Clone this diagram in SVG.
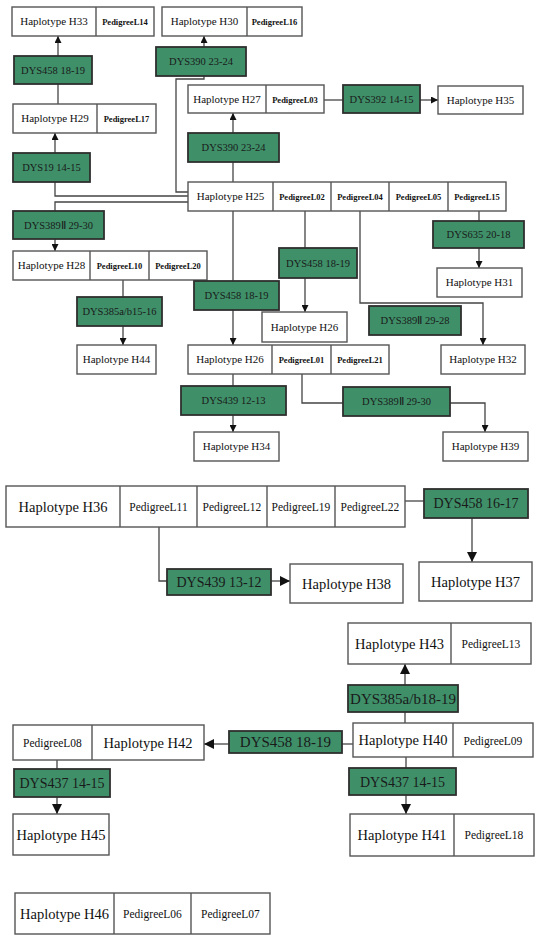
<svg xmlns="http://www.w3.org/2000/svg" width="548" height="938" viewBox="0 0 548 938">
<style>
.box{fill:#fff;stroke:#555;stroke-width:1.4}
.div{stroke:#555;stroke-width:1.4}
.g{fill:#3f9069;stroke:#2f2f2f;stroke-width:1.8}
.c{fill:none;stroke:#444;stroke-width:1.3}
text{font-family:'Liberation Serif','Times New Roman',serif;text-anchor:middle;fill:#111}
.h{font-size:11px}
.p{font-size:8.5px;font-weight:bold}
.d{font-size:10.5px;fill:#1a1a1a}
.H{font-size:14.5px}
.P{font-size:11.5px}
.D{font-size:14px;fill:#1a1a1a}
</style>
<defs>
<marker id="a" viewBox="0 0 10 10" refX="10" refY="5" markerWidth="7" markerHeight="7" markerUnits="userSpaceOnUse" orient="auto"><path d="M0,0L10,5L0,10z" fill="#111"/></marker>
<marker id="A" viewBox="0 0 10 10" refX="10" refY="5" markerWidth="10" markerHeight="10" markerUnits="userSpaceOnUse" orient="auto"><path d="M0,0L10,5L0,10z" fill="#111"/></marker>
</defs>
<rect width="548" height="938" fill="#fff"/>
<g id="connectors">
<line class="c" x1="58" y1="56" x2="58" y2="36" marker-end="url(#a)"/>
<line class="c" x1="58" y1="104" x2="58" y2="84"/>
<line class="c" x1="55" y1="153" x2="55" y2="133" marker-end="url(#a)"/>
<polyline class="c" points="188,196 55,196 55,182"/>
<line class="c" x1="204" y1="47" x2="204" y2="36" marker-end="url(#a)"/>
<polyline class="c" points="188,192 176,192 176,79 204,79 204,76"/>
<line class="c" x1="233" y1="182" x2="233" y2="162"/>
<line class="c" x1="233" y1="133" x2="233" y2="113" marker-end="url(#a)"/>
<line class="c" x1="324" y1="100" x2="343" y2="100"/>
<line class="c" x1="420" y1="100" x2="438" y2="100" marker-end="url(#a)"/>
<polyline class="c" points="188,202 55,202 55,211"/>
<line class="c" x1="55" y1="239" x2="55" y2="251" marker-end="url(#a)"/>
<line class="c" x1="123" y1="280" x2="123" y2="297"/>
<line class="c" x1="123" y1="326" x2="123" y2="345" marker-end="url(#a)"/>
<line class="c" x1="233" y1="211" x2="233" y2="281"/>
<line class="c" x1="233" y1="310" x2="233" y2="345" marker-end="url(#a)"/>
<line class="c" x1="305" y1="211" x2="305" y2="248"/>
<line class="c" x1="305" y1="278" x2="305" y2="312" marker-end="url(#a)"/>
<polyline class="c" points="360,211 360,303 483,303 483,345" marker-end="url(#a)"/>
<line class="c" x1="479" y1="211" x2="479" y2="221"/>
<line class="c" x1="479" y1="248" x2="479" y2="268" marker-end="url(#a)"/>
<line class="c" x1="233" y1="374" x2="233" y2="386"/>
<line class="c" x1="233" y1="415" x2="233" y2="432" marker-end="url(#a)"/>
<polyline class="c" points="302,374 302,403 343,403"/>
<polyline class="c" points="450,403 485,403 485,432" marker-end="url(#a)"/>
<line class="c" x1="405" y1="501" x2="424" y2="501"/>
<line class="c" x1="472" y1="518" x2="472" y2="562" marker-end="url(#A)"/>
<polyline class="c" points="159,527 159,581 167,581"/>
<line class="c" x1="271" y1="581" x2="290" y2="581" marker-end="url(#A)"/>
<line class="c" x1="405" y1="685" x2="405" y2="664" marker-end="url(#A)"/>
<line class="c" x1="405" y1="723" x2="405" y2="712"/>
<line class="c" x1="353" y1="744" x2="342" y2="744"/>
<line class="c" x1="229" y1="744" x2="204" y2="744" marker-end="url(#A)"/>
<line class="c" x1="57" y1="760" x2="57" y2="769"/>
<line class="c" x1="57" y1="797" x2="57" y2="814" marker-end="url(#A)"/>
<line class="c" x1="406" y1="757" x2="406" y2="768"/>
<line class="c" x1="406" y1="795" x2="406" y2="814" marker-end="url(#A)"/>
</g>
<g id="H33"><rect class="box" x="12" y="7" width="142" height="29"/><line class="div" x1="96" y1="7" x2="96" y2="36"/><text class="h" x="54" y="25">Haplotype H33</text><text class="p" x="125" y="24.5">PedigreeL14</text></g>
<g id="H30"><rect class="box" x="162" y="7" width="140" height="29"/><line class="div" x1="247" y1="7" x2="247" y2="36"/><text class="h" x="204.5" y="25">Haplotype H30</text><text class="p" x="274.5" y="24.5">PedigreeL16</text></g>
<g id="m1"><rect class="g" x="14" y="56" width="78" height="28"/><text class="d" x="53" y="73.5">DYS458 18-19</text></g>
<g id="H29"><rect class="box" x="13" y="104" width="143" height="29"/><line class="div" x1="97" y1="104" x2="97" y2="133"/><text class="h" x="55" y="122">Haplotype H29</text><text class="p" x="126.5" y="121.5">PedigreeL17</text></g>
<g id="m2"><rect class="g" x="13" y="153" width="77" height="29"/><text class="d" x="51.5" y="171">DYS19 14-15</text></g>
<g id="m3"><rect class="g" x="156" y="47" width="90" height="29"/><text class="d" x="201" y="65">DYS390 23-24</text></g>
<g id="H27"><rect class="box" x="188" y="85" width="136" height="28"/><line class="div" x1="266" y1="85" x2="266" y2="113"/><text class="h" x="227" y="103">Haplotype H27</text><text class="p" x="295" y="102.5">PedigreeL03</text></g>
<g id="m4"><rect class="g" x="343" y="85" width="77" height="28"/><text class="d" x="381.5" y="103">DYS392 14-15</text></g>
<g id="H35"><rect class="box" x="438" y="86" width="85" height="28"/><text class="h" x="480.5" y="104">Haplotype H35</text></g>
<g id="m5"><rect class="g" x="188" y="133" width="91" height="29"/><text class="d" x="233.5" y="151">DYS390 23-24</text></g>
<g id="H25"><rect class="box" x="188" y="182" width="318" height="29"/><line class="div" x1="273" y1="182" x2="273" y2="211"/><line class="div" x1="331" y1="182" x2="331" y2="211"/><line class="div" x1="389" y1="182" x2="389" y2="211"/><line class="div" x1="448" y1="182" x2="448" y2="211"/><text class="h" x="230.5" y="200">Haplotype H25</text><text class="p" x="302" y="199.5">PedigreeL02</text><text class="p" x="360" y="199.5">PedigreeL04</text><text class="p" x="418.5" y="199.5">PedigreeL05</text><text class="p" x="477" y="199.5">PedigreeL15</text></g>
<g id="m6"><rect class="g" x="13" y="211" width="91" height="28"/><text class="d" x="58.5" y="228.5">DYS389Ⅱ 29-30</text></g>
<g id="H28"><rect class="box" x="13" y="251" width="194" height="29"/><line class="div" x1="90" y1="251" x2="90" y2="280"/><line class="div" x1="149" y1="251" x2="149" y2="280"/><text class="h" x="51.5" y="269">Haplotype H28</text><text class="p" x="119.5" y="268.5">PedigreeL10</text><text class="p" x="178" y="268.5">PedigreeL20</text></g>
<g id="m7"><rect class="g" x="77" y="297" width="85" height="29"/><text class="d" x="119.5" y="315">DYS385a/b15-16</text></g>
<g id="H44"><rect class="box" x="77" y="345" width="79" height="29"/><text class="h" x="116.5" y="363">Haplotype H44</text></g>
<g id="m8"><rect class="g" x="194" y="281" width="85" height="29"/><text class="d" x="236.5" y="299">DYS458 18-19</text></g>
<g id="m9"><rect class="g" x="279" y="248" width="78" height="30"/><text class="d" x="318" y="266.5">DYS458 18-19</text></g>
<g id="H26b"><rect class="box" x="262" y="312" width="85" height="30"/><text class="h" x="304.5" y="330.5">Haplotype H26</text></g>
<g id="m10"><rect class="g" x="369" y="306" width="92" height="29"/><text class="d" x="415" y="324">DYS389Ⅱ 29-28</text></g>
<g id="H32"><rect class="box" x="441" y="345" width="84" height="29"/><text class="h" x="483" y="363">Haplotype H32</text></g>
<g id="m11"><rect class="g" x="433" y="221" width="91" height="27"/><text class="d" x="478.5" y="238">DYS635 20-18</text></g>
<g id="H31"><rect class="box" x="437" y="268" width="85" height="29"/><text class="h" x="479.5" y="286">Haplotype H31</text></g>
<g id="H26"><rect class="box" x="188" y="345" width="201" height="29"/><line class="div" x1="272" y1="345" x2="272" y2="374"/><line class="div" x1="331" y1="345" x2="331" y2="374"/><text class="h" x="230" y="363">Haplotype H26</text><text class="p" x="301.5" y="362.5">PedigreeL01</text><text class="p" x="360" y="362.5">PedigreeL21</text></g>
<g id="m12"><rect class="g" x="181" y="386" width="105" height="29"/><text class="d" x="233.5" y="404">DYS439 12-13</text></g>
<g id="H34"><rect class="box" x="194" y="432" width="85" height="29"/><text class="h" x="236.5" y="450">Haplotype H34</text></g>
<g id="m13"><rect class="g" x="343" y="387" width="107" height="29"/><text class="d" x="396.5" y="405">DYS389Ⅱ 29-30</text></g>
<g id="H39"><rect class="box" x="443" y="432" width="85" height="29"/><text class="h" x="485.5" y="450">Haplotype H39</text></g>
<g id="H36"><rect class="box" x="6" y="486" width="399" height="41"/><line class="div" x1="120" y1="486" x2="120" y2="527"/><line class="div" x1="197" y1="486" x2="197" y2="527"/><line class="div" x1="267" y1="486" x2="267" y2="527"/><line class="div" x1="335" y1="486" x2="335" y2="527"/><text class="H" x="63" y="511.5">Haplotype H36</text><text class="P" x="158.5" y="510.5">PedigreeL11</text><text class="P" x="232" y="510.5">PedigreeL12</text><text class="P" x="301" y="510.5">PedigreeL19</text><text class="P" x="370" y="510.5">PedigreeL22</text></g>
<g id="m14"><rect class="g" x="424" y="489" width="104" height="29"/><text class="D" x="476" y="508">DYS458 16-17</text></g>
<g id="H37"><rect class="box" x="419" y="562" width="113" height="39"/><text class="H" x="475.5" y="586.5">Haplotype H37</text></g>
<g id="m15"><rect class="g" x="167" y="569" width="104" height="26"/><text class="D" x="219" y="587">DYS439 13-12</text></g>
<g id="H38"><rect class="box" x="290" y="564" width="113" height="39"/><text class="H" x="346.5" y="588.5">Haplotype H38</text></g>
<g id="H43"><rect class="box" x="348" y="623" width="183" height="41"/><line class="div" x1="451" y1="623" x2="451" y2="664"/><text class="H" x="399.5" y="648.5">Haplotype H43</text><text class="P" x="491" y="647.5">PedigreeL13</text></g>
<g id="m16"><rect class="g" x="348" y="685" width="110" height="27"/><text class="D" x="403" y="703.5" style="font-size:15px">DYS385a/b18-19</text></g>
<g id="H40"><rect class="box" x="353" y="723" width="180" height="34"/><line class="div" x1="453" y1="723" x2="453" y2="757"/><text class="H" x="403" y="745">Haplotype H40</text><text class="P" x="493" y="744.5">PedigreeL09</text></g>
<g id="H42"><rect class="box" x="13" y="725" width="191" height="35"/><line class="div" x1="92" y1="725" x2="92" y2="760"/><text class="P" x="52.5" y="746.5">PedigreeL08</text><text class="H" x="148" y="747.5">Haplotype H42</text></g>
<g id="m17"><rect class="g" x="229" y="731" width="113" height="22"/><text class="D" x="285.5" y="747" style="font-size:15px">DYS458 18-19</text></g>
<g id="m18"><rect class="g" x="14" y="769" width="96" height="28"/><text class="D" x="62" y="788">DYS437 14-15</text></g>
<g id="H45"><rect class="box" x="13" y="814" width="96" height="41"/><text class="H" x="61" y="839.5">Haplotype H45</text></g>
<g id="m19"><rect class="g" x="349" y="768" width="107" height="27"/><text class="D" x="402.5" y="786.5">DYS437 14-15</text></g>
<g id="H41"><rect class="box" x="350" y="814" width="184" height="42"/><line class="div" x1="454" y1="814" x2="454" y2="856"/><text class="H" x="402" y="840">Haplotype H41</text><text class="P" x="494" y="839">PedigreeL18</text></g>
<g id="H46"><rect class="box" x="15" y="893" width="255" height="41"/><line class="div" x1="114" y1="893" x2="114" y2="934"/><line class="div" x1="191" y1="893" x2="191" y2="934"/><text class="H" x="64.5" y="918.5">Haplotype H46</text><text class="P" x="152.5" y="917.5">PedigreeL06</text><text class="P" x="230.5" y="917.5">PedigreeL07</text></g>
</svg>
